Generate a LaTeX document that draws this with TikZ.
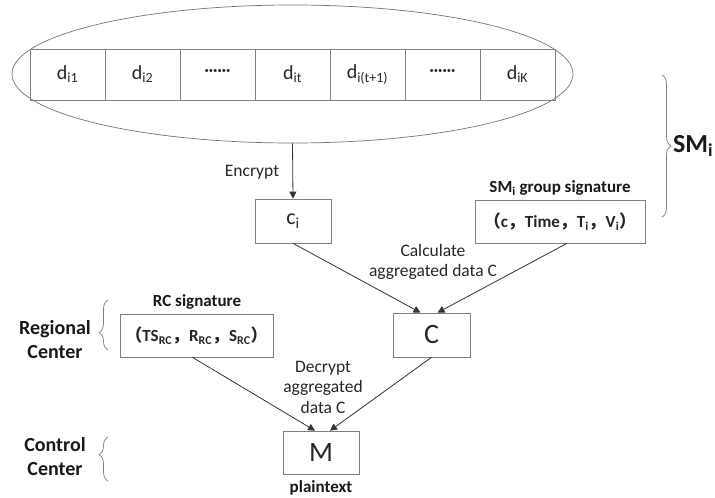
\documentclass[tikz,border=0pt]{standalone}
\usepackage{fontspec}
\setmainfont{Carlito}
\newfontfamily\cjk{Noto Sans CJK SC}
\usetikzlibrary{shapes.geometric,arrows.meta,decorations.pathreplacing}
\begin{document}
\begin{tikzpicture}[x=1pt,y=-1pt,
  cell/.style={draw=black!50,line width=0.7pt,minimum width=75pt,minimum height=51pt,inner sep=0pt,font=\fontsize{20}{22}\selectfont,text=black!85},
  box/.style={draw=black!50,line width=0.7pt,inner sep=0pt,text=black!85},
  arr/.style={draw=black!80,line width=0.8pt,-{Triangle[length=7pt,width=7pt]}},
  lbl/.style={font=\fontsize{17.5}{20.5}\selectfont,text=black!85,align=center},
  blbl/.style={font=\bfseries\fontsize{17}{20}\selectfont,text=black!90,align=center},
  brc/.style={draw=black!50,line width=0.7pt,decorate}]
\useasboundingbox (0,0) rectangle (715,498);
\node[ellipse,draw=black!55,line width=0.7pt,minimum width=561pt,minimum height=138pt,inner sep=0pt] (ell) at (292.5,74) {};
\node[cell] (d1) at (67.5,74.5) {d\textsubscript{i1}};
\node[cell] (d2) at (142.5,74.5) {d\textsubscript{i2}};
\node[cell] (d3) at (217.5,74.5) {\fontsize{16}{18}\selectfont\raisebox{3pt}{\textbf{······}}};
\node[cell] (d4) at (292.5,74.5) {d\textsubscript{it}};
\node[cell] (d5) at (367.5,74.5) {d\textsubscript{i(t+1)}};
\node[cell] (d6) at (442.5,74.5) {\fontsize{16}{18}\selectfont\raisebox{3pt}{\textbf{······}}};
\node[cell] (d7) at (517.5,74.5) {d\textsubscript{iK}};
% c_i
\node[box,minimum width=76pt,minimum height=44pt,font=\fontsize{22}{24}\selectfont] (ci) at (293,221) {c\textsubscript{i}};
\node[box,minimum width=170pt,minimum height=43pt,font=\bfseries\fontsize{17}{20}\selectfont] (sm) at (560,221.5) {{\cjk （}c{\cjk ，}Time{\cjk ，}T\textsubscript{i}{\cjk ，}V\textsubscript{i}{\cjk ）}};
\node[blbl] (smlbl) at (560,188) {SM\textsubscript{i} group signature};
\node[lbl] (enc) at (252,172) {Encrypt};
\draw[arr] (ell.south) -- (ci.north);
% C
\node[box,minimum width=77pt,minimum height=44pt,font=\fontsize{28}{30}\selectfont] (C) at (431.5,335) {C};
\node[lbl] (calc) at (433,262) {Calculate\\aggregated data C};
\draw[arr] (ci.south) -- ([xshift=-11pt]C.north);
\draw[arr] ([xshift=7pt]sm.south) -- ([xshift=6pt]C.north);
% RC
\node[box,minimum width=153pt,minimum height=43pt,font=\bfseries\fontsize{17}{20}\selectfont] (rc) at (196.5,335.5) {{\cjk （}TS\textsubscript{RC}{\cjk ，}R\textsubscript{RC}{\cjk ，}S\textsubscript{RC}{\cjk ）}};
\node[blbl] (rclbl) at (197,302) {RC signature};
% M
\node[box,minimum width=76pt,minimum height=43pt,font=\fontsize{28}{30}\selectfont] (M) at (321,452.5) {M};
\node[blbl] (pt) at (321,488) {plaintext};
\node[lbl] (dec) at (323,387) {Decrypt\\aggregated\\data C};
\draw[arr] ([xshift=-4pt]rc.south) -- ([xshift=-6pt]M.north);
\draw[arr] (C.south) -- ([xshift=9pt]M.north);
% braces and side labels
\draw[brc,decoration={brace,amplitude=9pt,aspect=0.5}] (662,75) -- (662,217);
\node[font=\bfseries\fontsize{26}{28}\selectfont,text=black!90] (smi) at (693,146) {SM\textsubscript{i}};
\draw[brc,decoration={brace,amplitude=9pt,aspect=0.35}] (108,350) -- (108,300);
\node[font=\bfseries\fontsize{20}{24}\selectfont,text=black!90,align=center] (reg) at (55,340) {Regional\\Center};
\draw[brc,decoration={brace,amplitude=9pt,aspect=0.6}] (108,481) -- (108,437);
\node[font=\bfseries\fontsize{20}{24}\selectfont,text=black!90,align=center] (ctl) at (55,457) {Control\\Center};
\end{tikzpicture}
\end{document}
